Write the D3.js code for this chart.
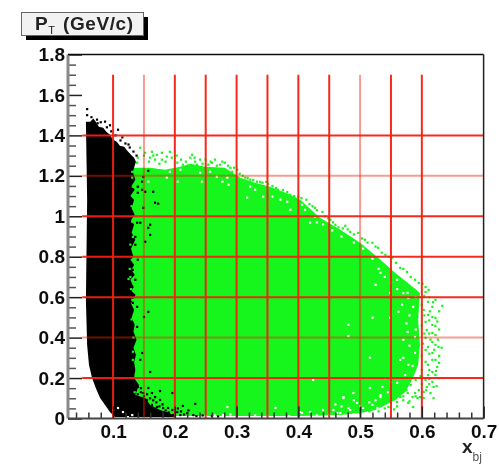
<!DOCTYPE html>
<html>
<head>
<meta charset="utf-8">
<script src="https://cdn.jsdelivr.net/npm/d3@7/dist/d3.min.js"></script>
<style>
html,body{margin:0;padding:0;background:#fff;overflow:hidden}
text{font-family:"Liberation Sans",Arial,sans-serif}
</style>
</head>
<body>
<script>
const xMajor = [0.1,0.2,0.3,0.4,0.5,0.6,0.7];
const xLabels = ["0.1","0.2","0.3","0.4","0.5","0.6","0.7"];
const xMinor = [0.04,0.06,0.08,0.12,0.14,0.16,0.18,0.22,0.24,0.26,0.28,0.32,0.34,0.36,0.38,0.42,0.44,0.46,0.48,0.52,0.54,0.56,0.58,0.62,0.64,0.66,0.68];
const yMajor = [0,0.2,0.4,0.6,0.8,1,1.2,1.4,1.6,1.8];
const yLabels = ["0","0.2","0.4","0.6","0.8","1","1.2","1.4","1.6","1.8"];
const yMinor = [0.05,0.1,0.15,0.25,0.3,0.35,0.45,0.5,0.55,0.65,0.7,0.75,0.85,0.9,0.95,1.05,1.1,1.15,1.25,1.3,1.35,1.45,1.5,1.55,1.65,1.7,1.75];
const gridX = [0.1,0.15,0.2,0.25,0.3,0.35,0.4,0.45,0.5,0.55,0.6];
const gridY = [0.2,0.4,0.6,0.8,1,1.2,1.4];
const paleGridX = [0.15,0.5];
const paleGridY = [0.4,1.2];
const gridTop = 1.7;
const gridLeft = 0.05;

const greenRegion = [[.120,1.240],[.160,1.240],[.184,1.230],[.209,1.245],[.225,1.260],[.249,1.245],[.281,1.240],[.306,1.191],[.330,1.166],[.354,1.146],[.379,1.116],[.403,1.082],[.435,.993],[.468,.933],[.500,.869],[.533,.785],[.557,.720],[.581,.661],[.597,.621],[.594,.488],[.597,.364],[.594,.265],[.584,.191],[.573,.131],[.557,.092],[.541,.067],[.525,.042],[.500,.027],[.468,.017],[.403,.012],[.241,.012],[.111,.012]];
const blackRegion = [[.056,1.468],[.063,1.468],[.068,1.483],[.072,1.468],[.077,1.443],[.084,1.438],[.089,1.418],[.095,1.403],[.100,1.379],[.106,1.369],[.111,1.349],[.118,1.344],[.123,1.324],[.129,1.304],[.134,1.290],[.137,1.270],[.132,1.220],[.136,1.181],[.130,1.150],[.135,1.131],[.128,1.100],[.134,1.082],[.130,1.040],[.135,1.007],[.129,.980],[.134,.958],[.130,.920],[.136,.884],[.129,.840],[.133,.800],[.128,.785],[.134,.760],[.130,.735],[.135,.710],[.128,.686],[.133,.650],[.130,.630],[.136,.611],[.129,.570],[.134,.537],[.130,.500],[.135,.463],[.133,.430],[.138,.389],[.133,.350],[.137,.314],[.134,.280],[.136,.240],[.134,.200],[.142,.166],[.136,.116],[.152,.101],[.160,.067],[.176,.042],[.192,.027],[.200,.007],[.111,.007],[.103,.007],[.095,.032],[.087,.067],[.079,.101],[.072,.151],[.066,.200],[.061,.265],[.058,.364],[.056,.587],[.058,1.082]];

const greenDots = [[.144,1.339],[.140,1.290],[.152,1.314],[.163,1.319],[.171,1.304],[.179,1.314],[.192,1.319],[.160,1.290],[.168,1.280],[.179,1.280],[.187,1.295],[.204,1.265],[.213,1.255],[.225,1.290],[.236,1.255],[.139,1.265],
[.228,1.304],[.233,1.270],[.241,1.280],[.254,1.255],[.260,1.265],[.265,1.280],[.273,1.255],[.281,1.265],[.290,1.240],[.293,1.220],[.301,1.230],[.314,1.191],[.322,1.181],[.333,1.171],[.342,1.166],[.351,1.161],[.367,1.131],[.387,1.106],[.400,1.097],[.413,1.082],[.427,1.042],[.439,1.022],[.452,.983],
[.460,.958],[.476,.953],[.484,.923],[.497,.918],[.508,.884],[.520,.869],[.529,.844],[.541,.809],[.552,.795],[.565,.745],[.576,.725],[.589,.686],[.601,.666],[.611,.636],[.604,.606],
[.606,.626],[.622,.587],[.633,.557],[.610,.577],[.617,.552],[.603,.537],[.610,.512],[.617,.502],[.622,.498],[.606,.478],[.617,.463],[.622,.458],[.608,.438],[.617,.423],[.622,.413],[.606,.399],[.617,.379],[.627,.354],[.622,.364],[.610,.354],[.606,.339],[.617,.324],[.622,.290],[.625,.255],[.610,.265],[.617,.230],[.622,.215],[.610,.215],[.606,.191],[.617,.181],[.619,.156],[.608,.156],[.603,.131],[.614,.126],[.619,.101],[.603,.101],[.597,.106],[.589,.126],[.593,.101],[.585,.106],[.577,.126],[.578,.077],[.586,.057],[.565,.106],[.557,.126],[.560,.082],[.549,.092],[.546,.057],[.537,.067],[.528,.101],[.520,.057],[.508,.042],[.500,.027],
[.150,1.30],[.158,1.27],[.165,1.30],[.175,1.26],[.185,1.27],[.195,1.29],[.203,1.30],[.21,1.28],[.218,1.27],[.222,1.25],[.232,1.29],[.245,1.26],[.25,1.28],[.258,1.27],[.268,1.25],[.277,1.27],[.286,1.25],[.296,1.24],[.305,1.21],[.31,1.20],[.318,1.19],[.327,1.18],[.338,1.17],[.348,1.17],[.358,1.15],[.364,1.14],[.375,1.13],[.382,1.12],[.393,1.10],[.405,1.09],[.418,1.06],[.423,1.05],[.43,1.03],[.443,1.0],[.448,.99],[.456,.97],[.465,.945],[.472,.94],[.48,.935],[.49,.91],[.503,.89],[.512,.87],[.525,.85],[.535,.82],[.546,.80],[.558,.77],[.57,.74],[.582,.70],[.595,.67],[.606,.65],
[.60,.60],[.612,.60],[.618,.575],[.6,.56],[.628,.53],[.613,.53],[.604,.51],[.625,.48],[.612,.485],[.6,.46],[.628,.44],[.612,.42],[.604,.42],[.626,.39],[.614,.39],[.602,.37],[.632,.35],[.62,.34],[.612,.32],[.6,.31],[.628,.31],[.617,.29],[.606,.28],[.628,.275],[.6,.24],[.612,.24],[.623,.235],[.598,.21],[.612,.195],[.628,.2],[.59,.19],[.6,.17],[.612,.17],[.624,.16],[.582,.165],[.595,.14],[.607,.14],[.575,.14],[.59,.11],[.57,.11],[.55,.075],[.56,.06],[.57,.09],[.58,.085],[.54,.05],[.53,.035],[.515,.035],[.555,.045]];

const greenOverBlack = [[.131,1.220],[.131,1.191],[.132,1.146],[.136,1.116],[.131,.973],[.128,.700],[.125,.690],[.132,.898],[.131,.587],[.132,.330],[.137,.220],[.140,.195],[.135,.130],[.130,1.05],[.128,.86],[.127,.74],[.129,.64],[.130,.49],[.133,.40],[.132,.29]];

const blackDots = [[.058,1.530],[.058,1.500],[.074,1.478],[.087,1.468],[.108,1.428],[.095,1.450],
[.065,1.49],[.075,1.46],[.08,1.465],[.09,1.44],[.097,1.42],[.104,1.4],[.112,1.375],[.12,1.36],[.127,1.34],[.133,1.32],[.138,1.30],[.115,1.39],[.125,1.355],
[.157,1.225],[.149,1.195],[.140,1.146],[.147,1.131],[.165,1.121],
[.147,1.171],[.140,1.116],[.149,1.042],[.168,1.067],[.152,1.121],[.139,.968],[.144,.968],[.157,.943],[.160,.958],[.160,.908],[.152,.874],[.136,.898],[.136,.859],[.140,.785],[.132,.735],[.136,.686],[.131,.651],[.134,.611],[.132,.572],[.139,.552],[.157,.527],[.150,.502],[.139,.453],[.131,.389],[.132,.364],[.173,1.062],
[.160,.230],[.176,.136],[.140,.156],[.149,.126],[.157,.151],[.163,.126],[.168,.106],[.176,.092],[.155,.092],[.163,.067],[.171,.057],[.181,.052],[.189,.052],[.196,.042],[.204,.032],[.213,.062],[.233,.072],[.220,.027],[.209,.017],[.196,.126],[.147,.082],[.197,.017],[.184,.017],[.230,.017],[.144,.290],[.147,.324],
[.15,.11],[.145,.13],[.155,.12],[.16,.10],[.165,.09],[.17,.08],[.155,.07],[.165,.05],[.175,.06],[.18,.07],[.185,.04],[.19,.03],[.2,.02],[.205,.05],[.21,.035],[.215,.02],[.222,.04],[.15,.06],[.158,.045],[.17,.03],[.18,.02],[.19,.012],[.235,.012],[.245,.015],[.26,.012],[.27,.01],[.14,.12],[.145,.15]];

const whiteDots = [[.549,.498],[.562,.527],[.578,.596],[.568,.562],[.586,.552],[.577,.428],[.589,.403],[.570,.389],[.578,.265],[.573,.215],[.589,.324],[.565,.290],[.560,.176],[.533,.106],[.516,.151],[.473,.106],[.481,.463],[.481,.408],[.516,.300],[.520,.498],[.549,.621],[.525,.661],[.533,.720],[.560,.686],[.577,.621],[.484,.042],[.463,.027],[.440,.042],[.419,.032],[.406,.027],
[.241,1.215],[.257,1.220],[.268,1.196],[.285,1.191],[.287,1.156],[.322,1.146],[.330,1.131],[.343,1.097],[.358,1.097],[.371,1.082],[.382,1.072],[.387,1.032],[.406,1.057],[.411,1.032],[.427,.998],[.419,.968],[.317,1.092],[.277,1.171],[.244,1.171],[.157,1.171],[.187,1.191],[.205,1.171],[.192,1.220],[.165,1.255],[.173,1.240],[.209,1.230],
[.285,.057],[.278,.017],[.311,.007],[.424,.191],[.363,.052],[.403,.032],[.457,.042],[.473,.101],[.489,.126],[.481,.052],[.495,.077],[.512,.027],[.505,.052],[.520,.067],[.536,.156],[.533,.116],[.537,.027],[.528,.052],[.468,.027],[.108,.052],[.116,.032],[.131,.017],[.100,.042],[.124,.007],
[.25,.012],[.265,.015],[.29,.02],[.33,.015],[.35,.01],[.385,.012],[.43,.015],[.45,.02],[.49,.02],[.5,.06],[.515,.08],[.525,.09],[.49,.09],[.47,.06],[.46,.07],[.545,.13],[.55,.18],[.54,.2],[.57,.30],[.585,.26],[.58,.36],[.59,.44],[.575,.47],[.58,.51],[.59,.6],[.57,.62],[.56,.64],[.55,.67],[.54,.70],[.53,.74],[.52,.79],[.505,.84],[.49,.87],[.47,.90],[.455,.93],[.44,.96],[.43,.97]];

const W = 499, H = 465;
const x = d3.scaleLinear().domain([0.027,0.7]).range([68,483.6]);
const y = d3.scaleLinear().domain([0,1.8]).range([418.5,54.5]);

const svg = d3.select("body").append("svg").attr("width",W).attr("height",H).style("display","block");
svg.append("defs").append("filter").attr("id","soft")
  .attr("filterUnits","userSpaceOnUse").attr("x",0).attr("y",0).attr("width",W).attr("height",H)
  .append("feGaussianBlur").attr("stdDeviation",0.6);
const root = svg.append("g").attr("filter","url(#soft)");
root.append("rect").attr("width",W).attr("height",H).attr("fill","#fff");

const line = d3.line().x(d=>x(d[0])).y(d=>y(d[1])).curve(d3.curveLinearClosed);
const dot = 2.2;
function dots(data,color){
  root.append("g").selectAll("rect").data(data).join("rect")
    .attr("x",d=>x(d[0])-dot/2).attr("y",d=>y(d[1])-dot/2)
    .attr("width",dot).attr("height",dot).attr("fill",color);
}
root.append("path").attr("d",line(greenRegion)).attr("fill","#14f51a");
dots(greenDots,"#14f51a");
root.append("path").attr("d",line(blackRegion)).attr("fill","#000");
dots(greenOverBlack,"#14f51a");
dots(blackDots,"#000");
dots(whiteDots,"#fff");

const grid = root.append("g");
grid.selectAll("line.v").data(gridX).join("line").attr("class","v")
  .attr("x1",d=>x(d)).attr("x2",d=>x(d)).attr("y1",y(gridTop)).attr("y2",y(0))
  .attr("stroke","#f5200f").attr("stroke-width",2)
  .attr("stroke-opacity",d=>paleGridX.includes(d)?0.45:0.95);
grid.selectAll("line.h").data(gridY).join("line").attr("class","h")
  .attr("x1",x(gridLeft)).attr("x2",x(0.7)).attr("y1",d=>y(d)).attr("y2",d=>y(d))
  .attr("stroke","#f5200f").attr("stroke-width",2)
  .attr("stroke-opacity",d=>paleGridY.includes(d)?0.45:0.95);

function styleAxis(g,color,w){
  g.select(".domain").remove();
  g.selectAll("line").attr("stroke",color).attr("stroke-width",w);
}
function styleText(g){
  g.selectAll("text").attr("font-size",19).attr("font-weight","bold").attr("fill","#111").attr("font-family","Liberation Sans");
}
root.append("g").attr("transform",`translate(${x.range()[0]},0)`)
  .call(d3.axisLeft(y).tickValues(yMinor).tickSize(-8).tickFormat(""))
  .call(styleAxis,"#555",1.5);
root.append("g").attr("transform",`translate(${x.range()[0]},0)`)
  .call(d3.axisLeft(y).tickValues(yMajor).tickSize(-14).tickPadding(3).tickFormat((d,i)=>yLabels[i]))
  .call(styleAxis,"#222",1.5).call(styleText);
root.append("g").attr("transform",`translate(0,${y(0)})`)
  .call(d3.axisBottom(x).tickValues(xMinor).tickSize(-6).tickFormat(""))
  .call(styleAxis,"#333",1.5);
root.append("g").attr("transform",`translate(0,${y(0)})`)
  .call(d3.axisBottom(x).tickValues(xMajor).tickSize(-12).tickPadding(6).tickFormat((d,i)=>xLabels[i]))
  .call(styleAxis,"#222",1.5).call(styleText);

const [x0,x1] = x.range(), [y0,y1] = y.range();
root.append("line").attr("x1",x0).attr("x2",x0).attr("y1",y1).attr("y2",y0).attr("stroke","#8a8a8a").attr("stroke-width",3);
root.append("line").attr("x1",x0).attr("x2",x1).attr("y1",y0).attr("y2",y0).attr("stroke","#444").attr("stroke-width",2);
root.append("line").attr("x1",x0).attr("x2",x1).attr("y1",y1).attr("y2",y1).attr("stroke","#111").attr("stroke-width",1.5);
root.append("line").attr("x1",x1).attr("x2",x1).attr("y1",y1).attr("y2",y0).attr("stroke","#222").attr("stroke-width",1.5);

root.append("rect").attr("x",26).attr("y",17).attr("width",122).attr("height",23).attr("fill","#000");
root.append("rect").attr("x",21.5).attr("y",12.5).attr("width",122).attr("height",23).attr("fill","#f2f2f2").attr("stroke","#666").attr("stroke-width",1);
const title = root.append("text").attr("x",35).attr("y",30).attr("font-size",19).attr("font-weight","bold").attr("fill","#222").attr("letter-spacing",0.6);
title.append("tspan").text("P");
title.append("tspan").attr("dy",4).attr("font-size",11).attr("font-weight","normal").text("T");
title.append("tspan").attr("dy",-4).attr("x",63).text("(GeV/c)");

const xl = root.append("text").attr("x",462).attr("y",453).attr("font-size",19).attr("font-weight","bold").attr("fill","#222");
xl.append("tspan").text("x");
xl.append("tspan").attr("dy",8).attr("font-size",12).attr("font-weight","normal").attr("fill","#555").text("bj");
</script>
</body>
</html>
